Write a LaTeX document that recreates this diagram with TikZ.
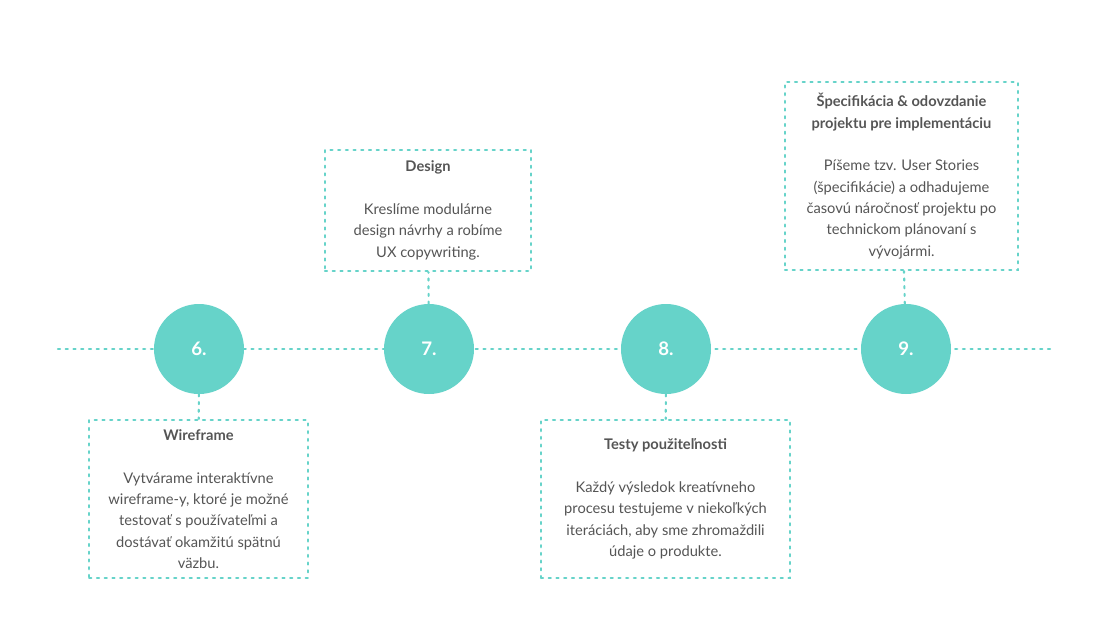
\documentclass[tikz,border=0pt]{standalone}
\usepackage{fontspec}
\setmainfont{Lato}
\definecolor{teal}{HTML}{66D3C9}
\definecolor{ink}{HTML}{555555}
\tikzset{
  dots/.style={draw=teal, line width=1.6pt, dash pattern=on 1.6pt off 4.2pt, line cap=round},
  stepnum/.style={circle, fill=teal, minimum size=67.5pt, text=white, font=\bfseries\fontsize{14}{16}\selectfont},
  card/.style={dots, align=center, text=ink, font=\fontsize{11}{16}\selectfont, inner sep=0pt}
}
\begin{document}
\begin{tikzpicture}[x=0.75pt,y=-0.75pt]
  \useasboundingbox (0,0) rectangle (1110,625);
  \coordinate (l) at (58,349);
  \coordinate (r) at (1055,349);
  \draw[dots] (l) -- (r);
  \node[stepnum] (s6) at (199,349) {6.};
  \node[stepnum] (s7) at (429,349) {7.};
  \node[stepnum] (s8) at (666,349) {8.};
  \node[stepnum] (s9) at (906,349) {9.};
  \node[card, minimum width=164pt, minimum height=118.5pt] (wire) at (198.5,499)
    {\textbf{Wireframe}\\[16pt] Vytvárame interaktívne\\ wireframe-y, ktoré je možné\\ testovať s používateľmi a\\ dostávať okamžitú spätnú\\ väzbu.};
  \node[card, minimum width=154.5pt, minimum height=91pt] (design) at (428,210.5)
    {\textbf{Design}\\[16pt] Kreslíme modulárne\\ design návrhy a robíme\\ UX copywriting.};
  \node[card, minimum width=186.75pt, minimum height=118.5pt] (test) at (665.5,499)
    {\textbf{Testy použiteľnosti}\\[16pt] Každý výsledok kreatívneho\\ procesu testujeme v niekoľkých\\ iteráciách, aby sme zhromaždili\\ údaje o produkte.};
  \node[card, minimum width=174.75pt, minimum height=141pt] (spec) at (901.5,176)
    {\textbf{Špecifikácia \& odovzdanie}\\ \textbf{projektu pre implementáciu}\\[16pt] Píšeme tzv. User Stories\\ (špecifikácie) a odhadujeme\\ časovú náročnosť projektu po\\ technickom plánovaní s\\ vývojármi.};
  \draw[dots] (s6) -- (wire);
  \draw[dots] (s7) -- (design);
  \draw[dots] (s8) -- (test);
  \draw[dots] (s9) -- (spec);
\end{tikzpicture}
\end{document}
